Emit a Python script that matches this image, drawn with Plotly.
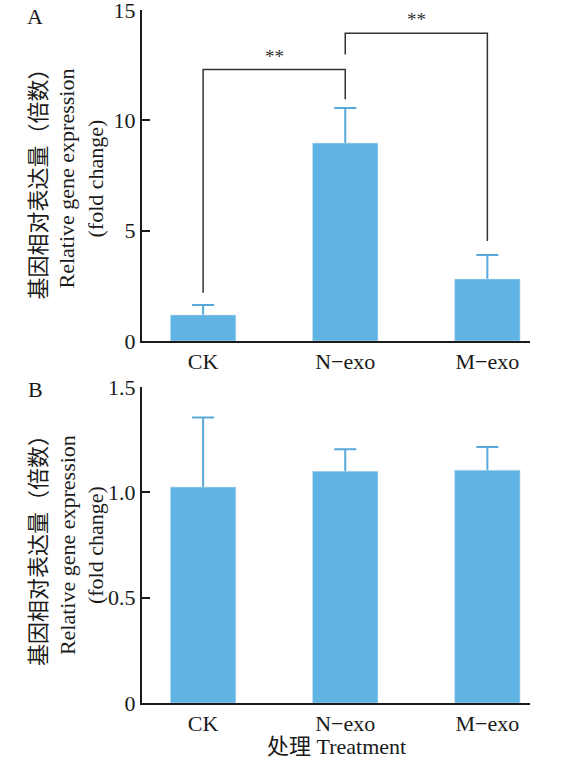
import plotly.graph_objects as go

# data
treatments = ["CK", "N\u2212exo", "M\u2212exo"]

expr_a = [1.18, 8.97, 2.81]
err_a = [0.45, 1.59, 1.09]

expr_b = [1.025, 1.10, 1.105]
err_b = [0.33, 0.105, 0.11]

# significance brackets for panel A
sig_pairs = [(0, 1), (1, 2)]
sig_heights = [12.3, 13.95]
sig_labels = ["**", "**"]

bar_color = "#60B4E4"
err_color = "#58A9DA"
serif = "Liberation Serif, Times New Roman, Noto Sans CJK SC, serif"

fig = go.Figure()

# bars with symmetric error bars, then the same bars again on top so only the upper whisker shows
for xa, ya, vals, errs in [("x", "y", expr_a, err_a), ("x2", "y2", expr_b, err_b)]:
    fig.add_trace(go.Bar(
        x=treatments, y=vals, marker_color=bar_color, width=0.46,
        error_y=dict(type="data", array=errs, thickness=2, width=11, color=err_color),
        xaxis=xa, yaxis=ya, showlegend=False))
    fig.add_trace(go.Bar(
        x=treatments, y=vals, marker_color=bar_color, width=0.46,
        xaxis=xa, yaxis=ya, showlegend=False, hoverinfo="skip"))

# brackets: legs start a little above each error bar
tops = [v + e for v, e in zip(expr_a, err_a)]
leg_bottom = [tops[0] + 0.55, tops[1] + 0.4, tops[2] + 0.63]
for k, ((i, j), h, lab) in enumerate(zip(sig_pairs, sig_heights, sig_labels)):
    lo_i = leg_bottom[i] if k == 0 else sig_heights[0] + 0.68
    lo_j = leg_bottom[j]
    fig.add_trace(go.Scatter(
        x=[treatments[i], treatments[i], treatments[j], treatments[j]],
        y=[lo_i, h, h, lo_j], mode="lines",
        line=dict(color="#333333", width=1.5),
        xaxis="x", yaxis="y", showlegend=False, hoverinfo="skip"))
    fig.add_annotation(x=(i + j) / 2, y=h, xref="x", yref="y", text=lab,
                       showarrow=False, yanchor="bottom", yshift=1,
                       font=dict(family=serif, size=19, color="#333333"))

axis_common = dict(showline=True, linecolor="#1a1a1a", linewidth=2,
                   showgrid=False, zeroline=False, mirror=False, automargin=False,
                   ticklabeloverflow="allow",
                   tickfont=dict(family=serif, size=22, color="#1a1a1a"))

fig.update_layout(
    width=566, height=763,
    margin=dict(l=142, r=36, t=10, b=60),
    plot_bgcolor="white", paper_bgcolor="white",
    barmode="overlay",
    xaxis=dict(domain=[0, 1], anchor="y", range=[-0.43, 2.3], ticks="", **axis_common),
    yaxis=dict(domain=[0.5224, 1], anchor="x", range=[0, 15], tickvals=[0, 5, 10, 15],
               ticks="inside", ticklen=8, tickwidth=2, tickcolor="#1a1a1a", **axis_common),
    xaxis2=dict(domain=[0, 1], anchor="y2", range=[-0.43, 2.3], ticks="", **axis_common),
    yaxis2=dict(domain=[0, 0.456], anchor="x2", range=[0, 1.5], tickvals=[0, 0.5, 1.0, 1.5],
                ticktext=["0", "0.5", "1.0", "1.5"],
                ticks="inside", ticklen=8, tickwidth=2, tickcolor="#1a1a1a", **axis_common),
)

ytitle = "基因相对表达量（倍数）<br>Relative gene expression<br>(fold change)"
for yc in [0.757, 0.228]:
    fig.add_annotation(x=-0.193, y=yc, xref="paper", yref="paper", text=ytitle,
                       textangle=-90, showarrow=False, xanchor="center", yanchor="middle",
                       font=dict(family=serif, size=22, color="#1a1a1a"))

for lab, yp in [("A", 1.0), ("B", 0.462)]:
    fig.add_annotation(x=-0.275, y=yp, xref="paper", yref="paper", text=lab,
                       showarrow=False, xanchor="center", yanchor="top", yshift=8,
                       font=dict(family=serif, size=22, color="#1a1a1a"))

fig.add_annotation(x=0.5, y=0, xref="paper", yref="paper", text="处理 Treatment",
                   showarrow=False, xanchor="center", yanchor="top", yshift=-29,
                   font=dict(family=serif, size=22, color="#1a1a1a"))

fig.write_html("out.html", config={"displayModeBar": False},
               post_script="document.body.style.margin='0';")
